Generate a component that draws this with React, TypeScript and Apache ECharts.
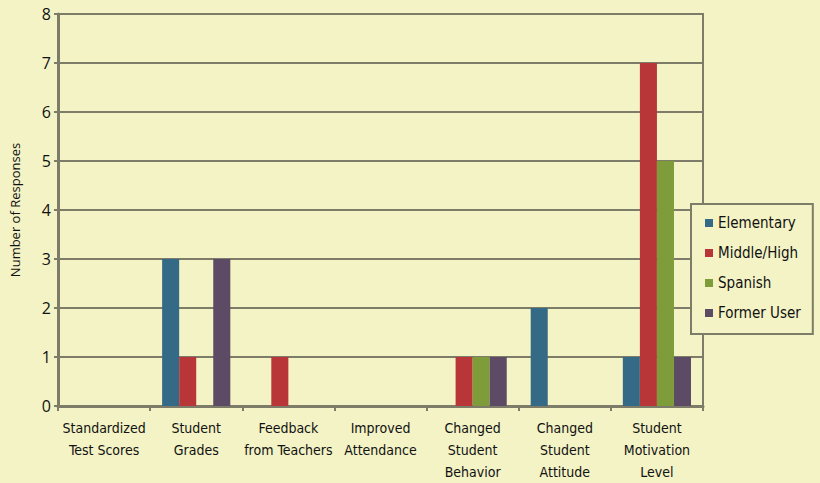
import React, { useEffect, useRef } from "react";
import * as echarts from "echarts";

const categories = [
  "Standardized\nTest Scores",
  "Student\nGrades",
  "Feedback\nfrom Teachers",
  "Improved\nAttendance",
  "Changed\nStudent\nBehavior",
  "Changed\nStudent\nAttitude",
  "Student\nMotivation\nLevel",
];
const seriesNames = ["Elementary", "Middle/High", "Spanish", "Former User"];
const elementary = [0, 3, 0, 0, 0, 2, 1];
const middleHigh = [0, 1, 1, 0, 1, 0, 7];
const spanish = [0, 0, 0, 0, 1, 0, 5];
const formerUser = [0, 3, 0, 0, 1, 0, 1];
const seriesColors = ["#346A85", "#B83538", "#7E9C3A", "#5D4A65"];

const BG = "#F3F3C5";
const LINE = "#7C7C68";
const NARROW = "'Liberation Sans Narrow', 'DejaVu Sans Condensed', 'Roboto Condensed', 'Arial Narrow', 'DejaVu Sans', sans-serif";
const SANS = "'Open Sans', 'Noto Sans', sans-serif";

export default function App() {
  const ref = useRef<HTMLDivElement>(null);
  useEffect(() => {
    if (!ref.current) return;
    const chart = echarts.init(ref.current, undefined, { renderer: "svg" });
    const data = [elementary, middleHigh, spanish, formerUser];
    chart.setOption({
      animation: false,
      backgroundColor: BG,
      grid: {
        left: 57,
        right: 117,
        top: 14,
        bottom: 75,
        show: true,
        borderColor: LINE,
        borderWidth: 2,
        backgroundColor: "transparent",
      },
      legend: {
        orient: "vertical",
        left: 691,
        top: 204,
        data: seriesNames,
        icon: "rect",
        itemWidth: 8,
        itemHeight: 8,
        itemGap: 10,
        padding: [9, 12, 11, 14],
        backgroundColor: BG,
        borderColor: LINE,
        borderWidth: 2,
        textStyle: {
          fontFamily: NARROW,
          fontSize: 15,
          lineHeight: 20,
          color: "#111",
        },
      },
      xAxis: {
        type: "category",
        data: categories,
        axisLine: { show: true, lineStyle: { color: LINE, width: 3 } },
        axisTick: { show: true, length: 5, lineStyle: { color: LINE, width: 2 } },
        axisLabel: {
          interval: 0,
          margin: 11,
          fontFamily: NARROW,
          fontSize: 14,
          lineHeight: 22,
          color: "#111",
        },
        splitLine: { show: false },
      },
      yAxis: {
        type: "value",
        min: 0,
        max: 8,
        interval: 1,
        name: "Number of Responses",
        nameLocation: "middle",
        nameGap: 37,
        nameTextStyle: { fontFamily: SANS, fontSize: 13, color: "#111" },
        axisLine: { show: true, lineStyle: { color: LINE, width: 3 } },
        axisTick: { show: true, length: 4, lineStyle: { color: LINE, width: 2 } },
        axisLabel: { fontFamily: SANS, fontSize: 16, color: "#111", margin: 7 },
        splitLine: { show: true, lineStyle: { color: LINE, width: 2 } },
      },
      series: seriesNames.map((name, i) => ({
        name,
        type: "bar",
        data: data[i],
        itemStyle: { color: seriesColors[i] },
        barGap: "0%",
        barCategoryGap: "26%",
        z: 3,
      })),
    });
    return () => chart.dispose();
  }, []);
  return (
    <div
      ref={ref}
      style={{ position: "fixed", left: 0, top: 0, width: 820, height: 483 }}
    />
  );
}
